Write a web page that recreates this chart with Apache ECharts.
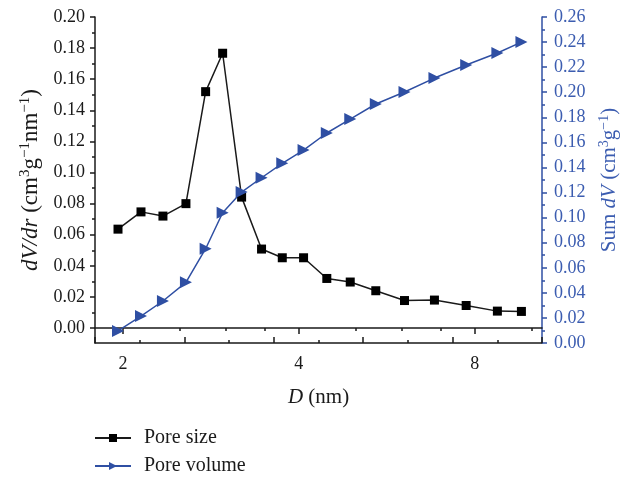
<!DOCTYPE html>
<html><head><meta charset="utf-8">
<script src="https://cdn.jsdelivr.net/npm/echarts@6/dist/echarts.min.js"></script>
<style>html,body{margin:0;padding:0;background:#fff}#c{width:629px;height:477px}</style>
</head><body><div id="c"></div>
<script>
const diameters = [1.961, 2.147, 2.341, 2.563, 2.770, 2.962, 3.192, 3.453, 3.747, 4.075, 4.466, 4.898, 5.417, 6.066, 6.826, 7.735, 8.748, 9.617];
const poreSize = [0.0636, 0.0747, 0.0720, 0.0800, 0.1520, 0.1767, 0.0842, 0.0508, 0.0452, 0.0452, 0.0319, 0.0296, 0.0240, 0.0177, 0.0180, 0.0145, 0.0109, 0.0107];
const poreVolume = [0.0096, 0.0215, 0.0335, 0.0484, 0.0752, 0.1039, 0.1204, 0.1318, 0.1433, 0.1539, 0.1675, 0.1786, 0.1906, 0.2002, 0.2113, 0.2217, 0.2313, 0.2400];
const xMajorTicks = [2, 4, 8];
const xMinorTicks = [2.5, 3, 3.5, 5, 6, 7, 10];
const leftTicks = [0, 0.02, 0.04, 0.06, 0.08, 0.10, 0.12, 0.14, 0.16, 0.18, 0.20];
const leftMinorTicks = [0.01, 0.03, 0.05, 0.07, 0.09, 0.11, 0.13, 0.15, 0.17, 0.19];
const seriesNames = ['Pore size', 'Pore volume'];

const FONT = 'Liberation Serif';
const BLACK = '#1a1a1a';
const BLUE = '#2f4fa3';
const BLUE_TXT = '#3b5cb0';

const rich = (color, size, supSize) => ({
  n: {fontFamily: FONT, fontSize: size, color: color, lineHeight: Math.round(size * 1.1), verticalAlign: 'bottom'},
  i: {fontFamily: FONT, fontSize: size, fontStyle: 'italic', color: color, lineHeight: Math.round(size * 1.1), verticalAlign: 'bottom'},
  s: {fontFamily: FONT, fontSize: supSize, color: color, lineHeight: supSize, verticalAlign: 'top'}
});

const chart = echarts.init(document.getElementById('c'));
chart.setOption({
  animation: false,
  backgroundColor: '#fff',
  grid: {left: 95, right: 87, top: 17, bottom: 134, containLabel: false, outerBoundsMode: 'none'},
  legend: {
    orient: 'vertical', left: 94, top: 427, padding: 0, itemWidth: 36, itemHeight: 10, itemGap: 6,
    data: seriesNames,
    textStyle: {fontFamily: FONT, fontSize: 20, color: BLACK, lineHeight: 22, padding: [0, 0, 0, 8]}
  },
  xAxis: [
    {
      type: 'log', logBase: 2, min: 1.791, max: 10.43, position: 'bottom',
      name: '{i|D}{n| (nm)}', nameLocation: 'middle', nameGap: 42,
      nameTextStyle: {rich: rich(BLACK, 21, 14)},
      axisLine: {lineStyle: {color: BLACK, width: 1.5}},
      axisTick: {customValues: xMajorTicks, length: 6, lineStyle: {color: BLACK, width: 1.5}},
      axisLabel: {customValues: xMajorTicks, fontFamily: FONT, fontSize: 18, color: BLACK, margin: 12},
      splitLine: {show: false}, minorTick: {show: false}
    },
    {
      type: 'log', logBase: 2, min: 1.791, max: 10.43, position: 'bottom',
      axisLine: {show: false},
      axisTick: {customValues: xMinorTicks, length: 3, lineStyle: {color: BLACK, width: 1.5}},
      axisLabel: {show: false}, splitLine: {show: false}
    },
    {
      type: 'value', min: 0, max: 5, interval: 1, position: 'top',
      axisLine: {lineStyle: {color: BLACK, width: 1.5}},
      axisTick: {length: 6, lineStyle: {color: BLACK, width: 1.5}},
      minorTick: {show: true, splitNumber: 2, length: 3, lineStyle: {color: BLACK, width: 1.5}},
      axisLabel: {show: false}, splitLine: {show: false}
    }
  ],
  yAxis: [
    {
      type: 'value', min: -0.0096, max: 0.2, position: 'left',
      name: '{i|dV/dr}{n| (cm}{s|3}{n|g}{s|−1}{n|nm}{s|−1}{n|)}',
      nameLocation: 'middle', nameRotate: 90, nameGap: 50,
      nameTextStyle: {rich: rich(BLACK, 23, 15)},
      axisLine: {lineStyle: {color: BLACK, width: 1.5}},
      axisTick: {customValues: leftTicks, length: 5, lineStyle: {color: BLACK, width: 1.5}},
      axisLabel: {customValues: leftTicks, formatter: v => Number(v).toFixed(2), fontFamily: FONT, fontSize: 18, color: BLACK, margin: 10},
      splitLine: {show: false}
    },
    {
      type: 'value', min: -0.0096, max: 0.2, position: 'left',
      axisLine: {show: false},
      axisTick: {customValues: leftMinorTicks, length: 3, lineStyle: {color: BLACK, width: 1.5}},
      axisLabel: {show: false}, splitLine: {show: false}
    },
    {
      type: 'value', min: 0, max: 0.26, interval: 0.02, position: 'right',
      name: '{n|Sum }{i|dV}{n| (cm}{s|3}{n|g}{s|−1}{n|)}',
      nameLocation: 'middle', nameRotate: 90, nameGap: 55,
      nameTextStyle: {rich: rich(BLUE_TXT, 21, 14)},
      axisLine: {lineStyle: {color: BLUE, width: 1.5}},
      axisTick: {length: 5, lineStyle: {color: BLUE, width: 1.5}},
      minorTick: {show: true, splitNumber: 2, length: 3, lineStyle: {color: BLUE, width: 1.5}},
      axisLabel: {formatter: v => Number(v).toFixed(2), fontFamily: FONT, fontSize: 18, color: BLUE_TXT, margin: 12},
      splitLine: {show: false}
    }
  ],
  series: [
    {
      name: seriesNames[0], type: 'line', xAxisIndex: 0, yAxisIndex: 0,
      data: diameters.map((d, i) => [d, poreSize[i]]),
      symbol: 'rect', symbolSize: 9,
      lineStyle: {color: BLACK, width: 1.5}, itemStyle: {color: '#000'}
    },
    {
      name: seriesNames[1], type: 'line', xAxisIndex: 0, yAxisIndex: 2,
      data: diameters.map((d, i) => [d, poreVolume[i]]),
      symbol: 'triangle', symbolSize: 12, symbolRotate: -90,
      lineStyle: {color: BLUE, width: 1.5}, itemStyle: {color: BLUE}
    }
  ]
});
</script></body></html>
